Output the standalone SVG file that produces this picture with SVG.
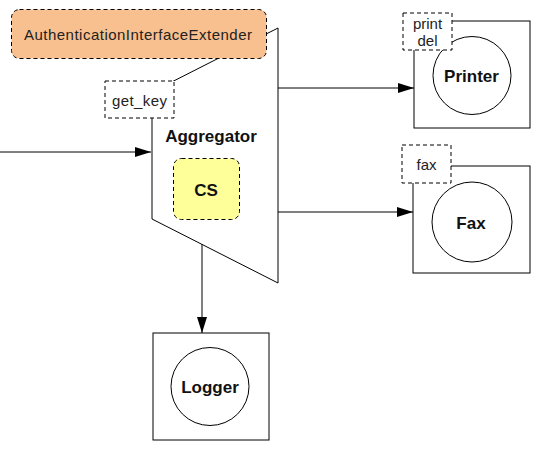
<svg xmlns="http://www.w3.org/2000/svg" width="554" height="452" viewBox="0 0 554 452">
<defs>
<marker id="ah" markerWidth="16" markerHeight="10" refX="16" refY="5" orient="auto" markerUnits="userSpaceOnUse">
<path d="M0,0 L16,5 L0,10 Z" fill="#000"/>
</marker>
<style>
.ln{stroke:#000;stroke-width:1;fill:none}
.box{stroke:#000;stroke-width:1;fill:#fff}
.dash{stroke:#000;stroke-width:1;stroke-dasharray:4,3;fill:#fff}
.t{font-family:"Liberation Sans",Arial,sans-serif;fill:#111;text-anchor:middle}
.b{font-weight:bold;font-size:17px}
.s{font-size:15px;fill:#222}
</style>
</defs>
<rect width="554" height="452" fill="#fff"/>
<g id="connectors">
<line class="ln" x1="0" y1="152" x2="151" y2="152" marker-end="url(#ah)"/>
<line class="ln" x1="278" y1="88" x2="414" y2="88" marker-end="url(#ah)"/>
<line class="ln" x1="278" y1="212" x2="413" y2="212" marker-end="url(#ah)"/>
<line class="ln" x1="202" y1="220" x2="202" y2="333" marker-end="url(#ah)"/>
</g>
<g id="aggregator">
<polygon class="box" points="278,28 152,92 152,219 278,283"/>
<text class="t b" x="211" y="142">Aggregator</text>
</g>
<g id="get_key">
<rect class="dash" x="105" y="81" width="69" height="37"/>
<text class="t s" x="139.5" y="106" textLength="55" lengthAdjust="spacing">get_key</text>
</g>
<g id="auth">
<rect x="11.5" y="9.5" width="255" height="49" rx="8" ry="8" fill="#f9c08f" stroke="#000" stroke-dasharray="4,3"/>
<text class="t s" x="138" y="40" textLength="228" lengthAdjust="spacing">AuthenticationInterfaceExtender</text>
</g>
<g id="cs">
<rect x="173.5" y="158.5" width="66" height="61" rx="8" ry="8" fill="#ffff99" stroke="#000" stroke-dasharray="4,3"/>
<text class="t b" x="206" y="196" font-size="18">CS</text>
</g>
<g id="printer">
<rect class="box" x="414" y="21" width="116" height="107"/>
<circle class="box" cx="472" cy="75.5" r="39"/>
<text class="t b" x="471.5" y="82">Printer</text>
<rect class="dash" x="403" y="13" width="49" height="37"/>
<text class="t s" x="427.5" y="29">print</text>
<text class="t s" x="427.5" y="46">del</text>
</g>
<g id="fax">
<rect class="box" x="413" y="166" width="117" height="107"/>
<circle class="box" cx="472" cy="222" r="40"/>
<text class="t b" x="471" y="229">Fax</text>
<rect class="dash" x="402" y="145" width="49" height="38"/>
<text class="t s" x="426.5" y="170">fax</text>
</g>
<g id="logger">
<rect class="box" x="153" y="333" width="116" height="107"/>
<circle class="box" cx="210" cy="386.5" r="39"/>
<text class="t b" x="210" y="393">Logger</text>
</g>
</svg>
